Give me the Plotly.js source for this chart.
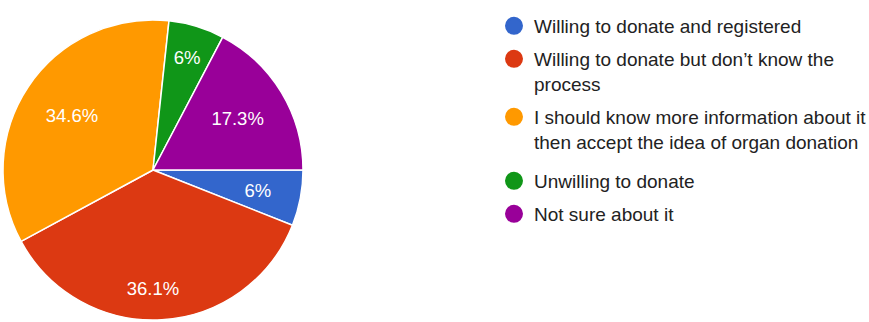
<!DOCTYPE html>
<html>
<head>
<meta charset="utf-8">
<script src="https://cdn.plot.ly/plotly-3.0.1.min.js"></script>
<style>html,body{margin:0;padding:0;background:#fff;}</style>
</head>
<body>
<div id="chart" style="width:869px;height:322px;"></div>
<script>
const categories = [
  "Willing to donate and registered",
  "Willing to donate but don’t know the<br>process",
  "I should know more information about it<br>then accept the idea of organ donation",
  "Unwilling to donate",
  "Not sure about it"
];
const percentages = [6, 36.1, 34.6, 6, 17.3];
const colors = ["#3366CC", "#DC3912", "#FF9900", "#109618", "#990099"];

const W = 869, H = 322;
const FONT = "Arial, 'Liberation Sans', sans-serif";
const CX = 153, CY = 170, R = 150;   // pie centre and radius in pixels (layout only)

function domainFor(r) {
  return {x: [(CX - r) / W, (CX + r) / W], y: [(H - CY - r) / H, (H - CY + r) / H]};
}

const pie = {
  type: "pie",
  labels: categories,
  values: percentages,
  sort: false,
  direction: "clockwise",
  rotation: 90,
  marker: {colors: colors, line: {color: "#ffffff", width: 1.5}},
  textinfo: "none",
  showlegend: false,
  hoverinfo: "label+percent",
  domain: domainFor(R)
};

// Transparent copies of the pie that only carry the percentage labels,
// each with its own hole / radius so the labels sit where the original puts them.
const labelGroups = [
  {slices: [2, 4], r: R, hole: 0.3},
  {slices: [1], r: R, hole: 0.64},
  {slices: [3], r: R * 0.93, hole: 0},
  {slices: [0], r: R * 0.845, hole: 0}
];
const labelPies = labelGroups.map(g => ({
  type: "pie",
  labels: categories,
  values: percentages,
  sort: false,
  direction: "clockwise",
  rotation: 90,
  hole: g.hole,
  marker: {colors: colors.map(() => "rgba(0,0,0,0)"), line: {width: 0}},
  text: percentages.map((v, i) => g.slices.includes(i) ? v + "%" : ""),
  texttemplate: "%{text}",
  textposition: "inside",
  insidetextorientation: "horizontal",
  textfont: {family: FONT, size: 18.5, color: "#ffffff"},
  showlegend: false,
  hoverinfo: "skip",
  domain: domainFor(g.r)
}));

// legend: one legend per entry so the spacing follows the original
const legendFirstLineY = [25, 58, 116, 180, 213];
const legendTraces = categories.map((name, i) => ({
  type: "scatter",
  mode: "markers",
  x: [null],
  y: [null],
  name: name,
  legend: i === 0 ? "legend" : "legend" + (i + 1),
  marker: {color: colors[i], size: 16, symbol: "circle", line: {color: colors[i], width: 2}},
  showlegend: true,
  hoverinfo: "skip"
}));

const layout = {
  width: W,
  height: H,
  margin: {l: 0, r: 0, t: 0, b: 0, autoexpand: false},
  paper_bgcolor: "#ffffff",
  plot_bgcolor: "rgba(0,0,0,0)",
  xaxis: {visible: false, domain: [0.99, 1]},
  yaxis: {visible: false, domain: [0.99, 1]},
  showlegend: true
};
legendFirstLineY.forEach((cy, i) => {
  const key = i === 0 ? "legend" : "legend" + (i + 1);
  layout[key] = {
    x: 494 / W,
    y: (H - (cy - 18)) / H,
    xanchor: "left",
    yanchor: "top",
    valign: "top",
    font: {family: FONT, size: 19, color: "#222222"},
    bgcolor: "rgba(0,0,0,0)",
    itemclick: false,
    itemdoubleclick: false
  };
});

Plotly.newPlot("chart", [pie].concat(labelPies, legendTraces), layout, {displayModeBar: false, staticPlot: true});
</script>
</body>
</html>
